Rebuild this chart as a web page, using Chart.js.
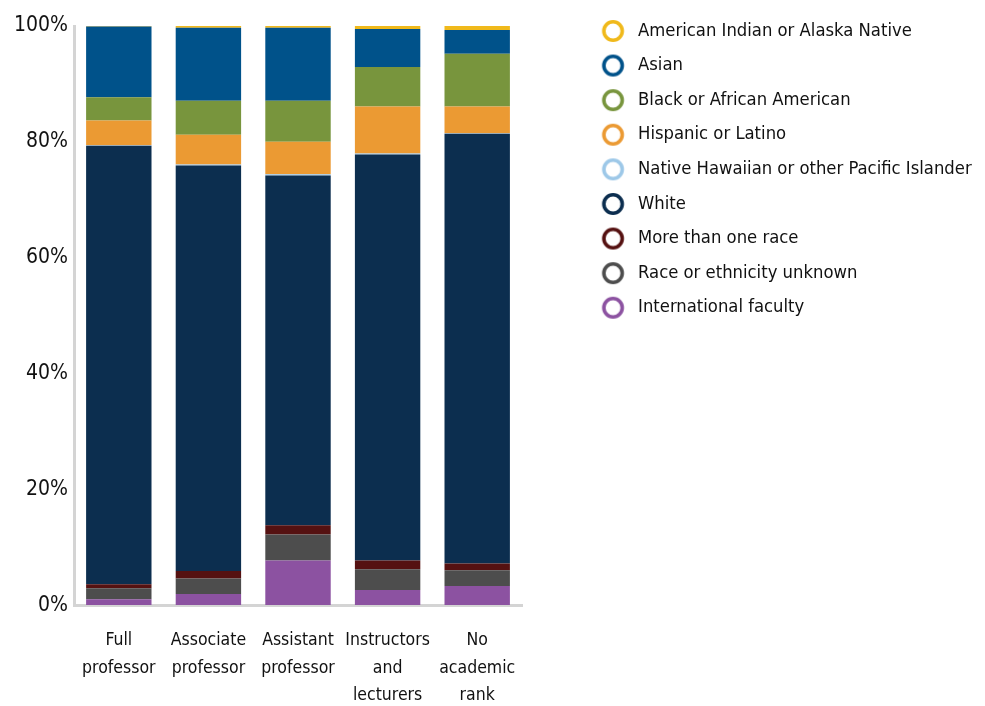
<!DOCTYPE html>
<html>
<head>
<meta charset="utf-8">
<script src="https://cdn.jsdelivr.net/npm/chart.js@4.4.1/dist/chart.umd.min.js"></script>
<style>
  html, body { margin: 0; padding: 0; background: #fff; }
  #wrap { width: 985px; height: 706px; }
</style>
</head>
<body>
<div id="wrap"><canvas id="c" width="985" height="706"></canvas></div>
<script>
const FONT = '"DejaVu Sans Condensed", "Liberation Sans Narrow", sans-serif';

const categories = [['Full', 'professor'], ['Associate', 'professor'], ['Assistant', 'professor'],
  ['Instructors', 'and', 'lecturers'], ['No', 'academic', 'rank']];

// percentages, bottom of stack first
const international = [1.0, 1.9, 7.7, 2.6, 3.3];
const unknown       = [1.9, 2.7, 4.5, 3.6, 2.7];
const multiRace     = [0.7, 1.3, 1.6, 1.5, 1.2];
const white         = [75.7, 70.0, 60.4, 70.1, 74.2];
const nhpi          = [0.1, 0.2, 0.2, 0.2, 0.1];
const hispanic      = [4.3, 5.1, 5.6, 8.1, 4.6];
const black         = [4.0, 5.9, 7.1, 6.8, 9.1];
const asian         = [12.2, 12.6, 12.6, 6.6, 4.1];
const aian          = [0.2, 0.3, 0.3, 0.5, 0.7];

const yTicks = [0, 20, 40, 60, 80, 100];

const series = [
  { label: 'International faculty', data: international, color: '#8c52a1' },
  { label: 'Race or ethnicity unknown', data: unknown, color: '#4d4d4d' },
  { label: 'More than one race', data: multiRace, color: '#551111' },
  { label: 'White', data: white, color: '#0c2e4f' },
  { label: 'Native Hawaiian or other Pacific Islander', data: nhpi, color: '#9dc8e8' },
  { label: 'Hispanic or Latino', data: hispanic, color: '#eb9a33' },
  { label: 'Black or African American', data: black, color: '#78953d' },
  { label: 'Asian', data: asian, color: '#00528a' },
  { label: 'American Indian or Alaska Native', data: aian, color: '#f0b91b' },
];

// ring marker for the legend, drawn a bit left of the image centre
function ring(color) {
  const c = document.createElement('canvas');
  c.width = 40; c.height = 26;
  const g = c.getContext('2d');
  g.beginPath();
  g.arc(20 - 6.7, 13, 9.2, 0, Math.PI * 2);
  g.fillStyle = '#fff';
  g.fill();
  g.lineWidth = 3.6;
  g.strokeStyle = color;
  g.stroke();
  return c;
}
const rings = series.map(s => ring(s.color));

const LEGEND_W = 463;
const legendPlace = {
  id: 'legendPlace',
  beforeLayout(chart) {
    const lg = chart.legend;
    if (lg && !lg._wpatch) {
      const fit = lg.fit.bind(lg);
      lg.fit = function () { fit(); this.width = LEGEND_W; };
      lg._wpatch = true;
    }
  },
  afterLayout(chart) {
    const lg = chart.legend;
    if (!lg) return;
    const h = lg.bottom - lg.top;
    lg.left = 594.3; lg.right = lg.left + LEGEND_W;
    lg.top = 5.5; lg.bottom = lg.top + h;
  }
};

new Chart(document.getElementById('c'), {
  type: 'bar',
  data: {
    labels: categories,
    datasets: series.map(s => ({
      label: s.label,
      data: s.data,
      backgroundColor: s.color,
      borderWidth: 0,
      categoryPercentage: 0.73,
      barPercentage: 1.0,
    }))
  },
  plugins: [legendPlace],
  options: {
    responsive: false,
    animation: false,
    layout: { padding: { top: 26, left: 8, right: 0, bottom: -25.5 } },
    plugins: {
      tooltip: { enabled: false },
      legend: {
        position: 'right',
        align: 'start',
        reverse: true,
        labels: {
          usePointStyle: true,
          boxWidth: 18.3,
          boxHeight: 18.3,
          padding: 16.3,
          color: '#111',
          font: { family: FONT, size: 18.3 },
          generateLabels(chart) {
            const items = Chart.defaults.plugins.legend.labels.generateLabels(chart);
            items.forEach(it => { it.pointStyle = rings[it.datasetIndex]; });
            return items;
          }
        }
      }
    },
    scales: {
      x: {
        stacked: true,
        grid: { display: false, drawTicks: false },
        border: { display: true, color: '#d4d4d4', width: 3 },
        ticks: { color: '#111', font: { family: FONT, size: 17.5, lineHeight: 1.57 }, padding: 22, maxRotation: 0 }
      },
      y: {
        stacked: true,
        min: 0,
        max: 100,
        afterBuildTicks(axis) { axis.ticks = yTicks.map(v => ({ value: v })); },
        grid: { display: false, drawTicks: false },
        border: { display: true, color: '#d4d4d4', width: 3 },
        ticks: { color: '#111', font: { family: FONT, size: 21 }, padding: 6, callback: v => v + '%' }
      }
    }
  }
});
</script>
</body>
</html>
